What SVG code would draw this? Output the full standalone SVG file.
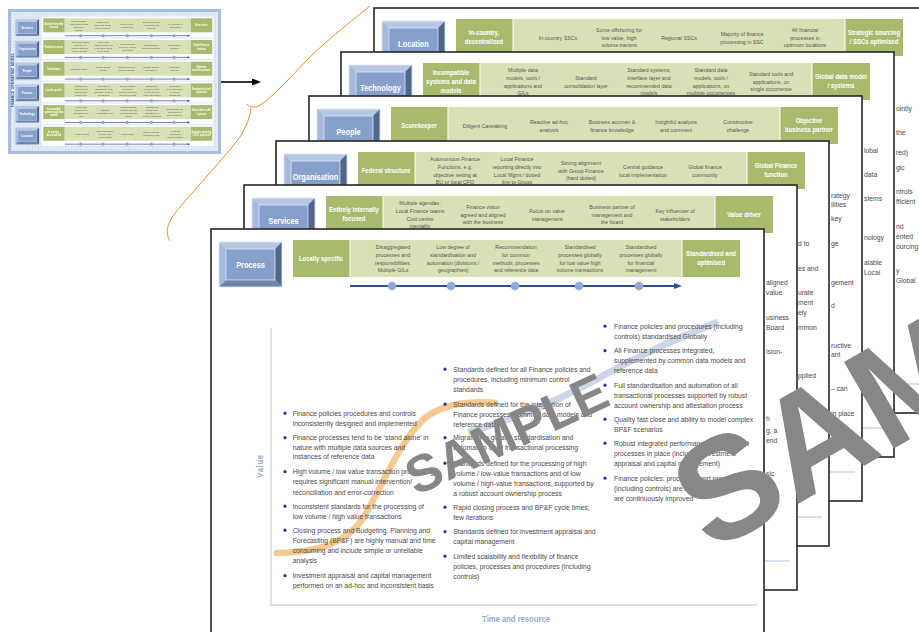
<svg xmlns="http://www.w3.org/2000/svg" width="919" height="632" viewBox="0 0 919 632">
<style>
text{font-family:'Liberation Sans',Arial,sans-serif}
.card{fill:#fff;stroke:#262626;stroke-width:1.6}
.dg{fill:#a8bb6d}
.lg{fill:#d8e1b5}
.bl{font-size:8.7px;font-weight:bold;fill:#fff;text-anchor:middle}
.eb{font-size:7px;font-weight:bold;fill:#fff;text-anchor:middle}
.ct{font-size:6.2px;fill:#555;text-anchor:middle}
.bt{font-size:8px;fill:#4a4a4a}
.axis{fill:none;stroke:#d7e0ec;stroke-width:2}
.bul{fill:#1d3a8f}
.lbl{font-size:9px;font-weight:bold;fill:#93abd1;text-anchor:middle}
.wm{font-weight:bold;fill:#878787}
</style>
<defs>
<pattern id="grid" width="3" height="3" patternUnits="userSpaceOnUse">
<rect width="3" height="3" fill="#e5ecf6"/>
<path d="M3 0V3H0" fill="none" stroke="#c5d4ea" stroke-width="0.6"/>
</pattern>
<filter id="soft" x="-5%" y="-5%" width="110%" height="110%"><feGaussianBlur stdDeviation="0.3"/></filter>
<marker id="tla" viewBox="0 0 8 6" refX="0" refY="3" markerWidth="8" markerHeight="6" orient="auto" markerUnits="userSpaceOnUse"><path d="M0 0L8 3L0 6z" fill="#2f4d94"/></marker>
<marker id="arr" viewBox="0 0 9 7" refX="0" refY="3.5" markerWidth="9" markerHeight="7" orient="auto" markerUnits="userSpaceOnUse"><path d="M0 0L9 3.5L0 7z" fill="#000"/></marker>

<!-- bevelled blue label button -->
<g id="btn">
<rect x="8" y="13" width="63" height="45" fill="#c9d6eb"/>
<path d="M8 13H71L64 20H15Z" fill="#b7c8e4"/>
<path d="M8 13L15 20V51L8 58Z" fill="#a5b9dd"/>
<path d="M71 13V58L64 51V20Z" fill="#51668a"/>
<path d="M8 58L15 51H64L71 58Z" fill="#6e83a8"/>
<rect x="15" y="20" width="49" height="31" fill="#86a0cb" stroke="#dbe4f2" stroke-width="0.8"/>
<rect x="8" y="13" width="63" height="45" fill="none" stroke="#dfe7f3" stroke-width="0.8"/>
</g>

<!-- maturity timeline under the band -->
<g id="tl">
<path d="M139 57H463" stroke="#2f4d94" stroke-width="1.8" marker-end="url(#tla)"/>
<g fill="#8fa9d3"><circle cx="181" cy="57" r="4.3"/><circle cx="240" cy="57" r="4.3"/><circle cx="304" cy="57" r="4.3"/><circle cx="368" cy="57" r="4.3"/><circle cx="428" cy="57" r="4.3"/></g>
</g>

<!-- header rows, one per dimension -->
<g id="hd-loc">
<use href="#btn"/>
<text class="bl" transform="translate(39.5 38.5) scale(.85 1)">Location</text>
<rect class="dg" x="82" y="11" width="56.5" height="37"/><rect class="lg" x="139.5" y="11" width="331" height="37"/><rect class="dg" x="471.5" y="11" width="57.5" height="37"/>
<text class="eb" transform="translate(110 0) scale(.85 1)"><tspan x="0" y="27.5">In-country,</tspan><tspan x="0" y="36.5">decentralised</tspan></text>
<text class="ct" transform="translate(184 0) scale(.85 1)"><tspan x="0" y="31.7">In-country SSCs</tspan></text>
<text class="ct" transform="translate(245 0) scale(.85 1)"><tspan x="0" y="23.9">Some offshoring for</tspan><tspan x="0" y="31.7">low value, high</tspan><tspan x="0" y="39.5">volume transns</tspan></text>
<text class="ct" transform="translate(305 0) scale(.85 1)"><tspan x="0" y="31.7">Regional SSCs</tspan></text>
<text class="ct" transform="translate(368 0) scale(.85 1)"><tspan x="0" y="27.8">Majority of finance</tspan><tspan x="0" y="35.6">processing in SSC</tspan></text>
<text class="ct" transform="translate(431 0) scale(.85 1)"><tspan x="0" y="23.9">All financial</tspan><tspan x="0" y="31.7">processes in</tspan><tspan x="0" y="39.5">optimum locations</tspan></text>
<text class="eb" transform="translate(500 0) scale(.85 1)"><tspan x="0" y="27.5">Strategic sourcing</tspan><tspan x="0" y="36.5">/ SSCs optimised</tspan></text>
<use href="#tl"/>
</g>

<g id="hd-tech">
<use href="#btn"/>
<text class="bl" transform="translate(39.5 38.5) scale(.85 1)">Technology</text>
<rect class="dg" x="82" y="11" width="56.5" height="37"/><rect class="lg" x="139.5" y="11" width="331" height="37"/><rect class="dg" x="471.5" y="11" width="57.5" height="37"/>
<text class="eb" transform="translate(110 0) scale(.85 1)"><tspan x="0" y="23">Incompatible</tspan><tspan x="0" y="32">systems and data</tspan><tspan x="0" y="41">models</tspan></text>
<text class="ct" transform="translate(182 0) scale(.85 1)"><tspan x="0" y="20">Multiple data</tspan><tspan x="0" y="27.8">models, tools /</tspan><tspan x="0" y="35.6">applications and</tspan><tspan x="0" y="43.4">G/Ls</tspan></text>
<text class="ct" transform="translate(245 0) scale(.85 1)"><tspan x="0" y="27.8">Standard</tspan><tspan x="0" y="35.6">consolidation layer</tspan></text>
<text class="ct" transform="translate(308 0) scale(.85 1)"><tspan x="0" y="20">Standard systems,</tspan><tspan x="0" y="27.8">interface layer and</tspan><tspan x="0" y="35.6">recommended data</tspan><tspan x="0" y="43.4">models</tspan></text>
<text class="ct" transform="translate(370 0) scale(.85 1)"><tspan x="0" y="20">Standard data</tspan><tspan x="0" y="27.8">models, tools /</tspan><tspan x="0" y="35.6">applications, on</tspan><tspan x="0" y="43.4">multiple occurrences</tspan></text>
<text class="ct" transform="translate(430 0) scale(.85 1)"><tspan x="0" y="23.9">Standard tools and</tspan><tspan x="0" y="31.7">applications, on</tspan><tspan x="0" y="39.5">single occurrence</tspan></text>
<text class="eb" transform="translate(500 0) scale(.85 1)"><tspan x="0" y="27.5">Global data model</tspan><tspan x="0" y="36.5">/ systems</tspan></text>
<use href="#tl"/>
</g>

<g id="hd-people">
<use href="#btn"/>
<text class="bl" transform="translate(39.5 38.5) scale(.85 1)">People</text>
<rect class="dg" x="82" y="11" width="56.5" height="37"/><rect class="lg" x="139.5" y="11" width="331" height="37"/><rect class="dg" x="471.5" y="11" width="57.5" height="37"/>
<text class="eb" transform="translate(110 32) scale(.85 1)">Scorekeeper</text>
<text class="ct" transform="translate(176 0) scale(.85 1)"><tspan x="0" y="31.7">Diligent Caretaking</tspan></text>
<text class="ct" transform="translate(240 0) scale(.85 1)"><tspan x="0" y="27.8">Reactive ad-hoc</tspan><tspan x="0" y="35.6">analysis</tspan></text>
<text class="ct" transform="translate(303 0) scale(.85 1)"><tspan x="0" y="27.8">Business acumen &amp;</tspan><tspan x="0" y="35.6">finance knowledge</tspan></text>
<text class="ct" transform="translate(367 0) scale(.85 1)"><tspan x="0" y="27.8">Insightful analysis</tspan><tspan x="0" y="35.6">and comment</tspan></text>
<text class="ct" transform="translate(429 0) scale(.85 1)"><tspan x="0" y="27.8">Constructive</tspan><tspan x="0" y="35.6">challenge</tspan></text>
<text class="eb" transform="translate(500 0) scale(.85 1)"><tspan x="0" y="27.5">Objective</tspan><tspan x="0" y="36.5">business partner</tspan></text>
<use href="#tl"/>
</g>

<g id="hd-org">
<use href="#btn"/>
<text class="bl" transform="translate(39.5 38.5) scale(.85 1)">Organisation</text>
<rect class="dg" x="82" y="11" width="56.5" height="37"/><rect class="lg" x="139.5" y="11" width="331" height="37"/><rect class="dg" x="471.5" y="11" width="57.5" height="37"/>
<text class="eb" transform="translate(110 32) scale(.85 1)">Federal structure</text>
<text class="ct" transform="translate(179 0) scale(.85 1)"><tspan x="0" y="20">Autonomous Finance</tspan><tspan x="0" y="27.8">Functions, e.g.</tspan><tspan x="0" y="35.6">objective setting at</tspan><tspan x="0" y="43.4">BU or local CFO</tspan></text>
<text class="ct" transform="translate(241 0) scale(.85 1)"><tspan x="0" y="20">Local Finance</tspan><tspan x="0" y="27.8">reporting directly into</tspan><tspan x="0" y="35.6">Local Mgmt / dotted</tspan><tspan x="0" y="43.4">line to Group</tspan></text>
<text class="ct" transform="translate(305 0) scale(.85 1)"><tspan x="0" y="23.9">Strong alignment</tspan><tspan x="0" y="31.7">with Group Finance</tspan><tspan x="0" y="39.5">(hard dotted)</tspan></text>
<text class="ct" transform="translate(367 0) scale(.85 1)"><tspan x="0" y="27.8">Central guidance</tspan><tspan x="0" y="35.6">local implementation</tspan></text>
<text class="ct" transform="translate(429 0) scale(.85 1)"><tspan x="0" y="27.8">Global finance</tspan><tspan x="0" y="35.6">community</tspan></text>
<text class="eb" transform="translate(500 0) scale(.85 1)"><tspan x="0" y="27.5">Global Finance</tspan><tspan x="0" y="36.5">function</tspan></text>
<use href="#tl"/>
</g>

<g id="hd-serv">
<use href="#btn"/>
<text class="bl" transform="translate(39.5 38.5) scale(.85 1)">Services</text>
<rect class="dg" x="82" y="11" width="56.5" height="37"/><rect class="lg" x="139.5" y="11" width="331" height="37"/><rect class="dg" x="471.5" y="11" width="57.5" height="37"/>
<text class="eb" transform="translate(110 0) scale(.85 1)"><tspan x="0" y="27.5">Entirely internally</tspan><tspan x="0" y="36.5">focused</tspan></text>
<text class="ct" transform="translate(176 0) scale(.85 1)"><tspan x="0" y="20">Multiple agendas,</tspan><tspan x="0" y="27.8">Local Finance teams</tspan><tspan x="0" y="35.6">Cost centre</tspan><tspan x="0" y="43.4">mentality</tspan></text>
<text class="ct" transform="translate(239 0) scale(.85 1)"><tspan x="0" y="23.9">Finance vision</tspan><tspan x="0" y="31.7">agreed and aligned</tspan><tspan x="0" y="39.5">with the business</tspan></text>
<text class="ct" transform="translate(303 0) scale(.85 1)"><tspan x="0" y="27.8">Focus on value</tspan><tspan x="0" y="35.6">management</tspan></text>
<text class="ct" transform="translate(368 0) scale(.85 1)"><tspan x="0" y="23.9">Business partner of</tspan><tspan x="0" y="31.7">management and</tspan><tspan x="0" y="39.5">the board</tspan></text>
<text class="ct" transform="translate(431 0) scale(.85 1)"><tspan x="0" y="27.8">Key influencer of</tspan><tspan x="0" y="35.6">stakeholders</tspan></text>
<text class="eb" transform="translate(500 32) scale(.85 1)">Value driver</text>
<use href="#tl"/>
</g>

<g id="hd-proc">
<use href="#btn"/>
<text class="bl" transform="translate(39.5 38.5) scale(.85 1)">Process</text>
<rect class="dg" x="82" y="11" width="56.5" height="37"/><rect class="lg" x="139.5" y="11" width="331" height="37"/><rect class="dg" x="471.5" y="11" width="57.5" height="37"/>
<text class="eb" transform="translate(110 32) scale(.85 1)">Locally specific</text>
<text class="ct" transform="translate(182 0) scale(.85 1)"><tspan x="0" y="20">Disaggregated</tspan><tspan x="0" y="27.8">processes and</tspan><tspan x="0" y="35.6">responsibilities.</tspan><tspan x="0" y="43.4">Multiple G/Ls</tspan></text>
<text class="ct" transform="translate(242 0) scale(.85 1)"><tspan x="0" y="20">Low degree of</tspan><tspan x="0" y="27.8">standardisation and</tspan><tspan x="0" y="35.6">automation (divisions /</tspan><tspan x="0" y="43.4">geographies)</tspan></text>
<text class="ct" transform="translate(305 0) scale(.85 1)"><tspan x="0" y="20">Recommendation</tspan><tspan x="0" y="27.8">for common</tspan><tspan x="0" y="35.6">methods, processes</tspan><tspan x="0" y="43.4">and reference data</tspan></text>
<text class="ct" transform="translate(369 0) scale(.85 1)"><tspan x="0" y="20">Standardised</tspan><tspan x="0" y="27.8">processes globally</tspan><tspan x="0" y="35.6">for low value high</tspan><tspan x="0" y="43.4">volume transactions</tspan></text>
<text class="ct" transform="translate(430 0) scale(.85 1)"><tspan x="0" y="20">Standardised</tspan><tspan x="0" y="27.8">processes globally</tspan><tspan x="0" y="35.6">for financial</tspan><tspan x="0" y="43.4">management</tspan></text>
<text class="eb" transform="translate(500 0) scale(.85 1)"><tspan x="0" y="27.5">Standardised and</tspan><tspan x="0" y="36.5">optimised</tspan></text>
<use href="#tl"/>
</g>
</defs>

<rect width="919" height="632" fill="#fff"/>

<!-- miniature overview of the whole framework -->
<g id="thumbnail" filter="url(#soft)">
<rect x="9.5" y="10.5" width="210" height="142" fill="url(#grid)" stroke="#a7bddc" stroke-width="3"/>
<text transform="translate(13.8 80) rotate(-90)" font-size="3.3" font-weight="bold" fill="#2c4a8c" text-anchor="middle" letter-spacing="0.3">FINANCE OPERATING MODEL</text>
<g fill="#fbfcfe">
<rect x="41.5" y="16.7" width="172" height="20.6"/><rect x="41.5" y="38.4" width="172" height="20.6"/><rect x="41.5" y="60.1" width="172" height="20.6"/>
<rect x="41.5" y="81.8" width="172" height="20.6"/><rect x="41.5" y="103.5" width="172" height="20.6"/><rect x="41.5" y="125.2" width="172" height="20.6"/>
</g>
<use href="#hd-serv" transform="translate(12.3 14.14) scale(.378)"/>
<use href="#hd-org" transform="translate(12.3 35.84) scale(.378)"/>
<use href="#hd-people" transform="translate(12.3 57.54) scale(.378)"/>
<use href="#hd-proc" transform="translate(12.3 79.24) scale(.378)"/>
<use href="#hd-tech" transform="translate(12.3 100.94) scale(.378)"/>
<use href="#hd-loc" transform="translate(12.3 122.64) scale(.378)"/>
</g>

<!-- stacked dimension pages, back to front -->
<g id="card-location">
<rect class="card" x="374" y="8" width="553" height="405"/>
<use href="#hd-loc" x="374" y="8"/>
<path class="axis" d="M434 107V384H920"/>
<text class="bt" transform="translate(896 0) scale(.85 1)"><tspan x="0" y="111">ointly</tspan><tspan x="0" y="135">the</tspan><tspan x="0" y="155">red)</tspan><tspan x="0" y="170">gic</tspan><tspan x="0" y="194">ntrols</tspan><tspan x="0" y="204">fficient</tspan><tspan x="0" y="229">nd</tspan><tspan x="0" y="239">ented</tspan><tspan x="0" y="249">ourcing</tspan><tspan x="0" y="273">y</tspan><tspan x="0" y="283">Global</tspan></text>
</g>

<g id="card-technology">
<rect class="card" x="341" y="52" width="553" height="405"/>
<use href="#hd-tech" x="341" y="52"/>
<path class="axis" d="M401 151V428H887"/>
<text class="bt" transform="translate(864 0) scale(.85 1)"><tspan x="0" y="153">lobal</tspan><tspan x="0" y="177">data</tspan><tspan x="0" y="201">stems</tspan><tspan x="0" y="240">nology</tspan><tspan x="0" y="265">alable</tspan><tspan x="0" y="275">Local</tspan></text>
</g>

<g id="card-people">
<rect class="card" x="309" y="96" width="553" height="405"/>
<use href="#hd-people" x="309" y="96"/>
<path class="axis" d="M369 195V472H855"/>
<text class="bt" transform="translate(831 0) scale(.85 1)"><tspan x="0" y="198">rategy</tspan><tspan x="0" y="207">ilities</tspan><tspan x="0" y="221">key</tspan><tspan x="0" y="246">ge</tspan><tspan x="0" y="285">gement</tspan><tspan x="0" y="308">d</tspan><tspan x="0" y="348">ructive</tspan><tspan x="0" y="357">ant</tspan><tspan x="0" y="391">– can</tspan><tspan x="0" y="416">in place</tspan></text>
</g>

<g id="card-organisation">
<rect class="card" x="276" y="141" width="553" height="405"/>
<use href="#hd-org" x="276" y="141"/>
<path class="axis" d="M336 240V517H822"/>
<text class="bt" transform="translate(798 0) scale(.85 1)"><tspan x="0" y="246">d to</tspan><tspan x="0" y="271">es and</tspan><tspan x="0" y="295">urate</tspan><tspan x="0" y="305">ment</tspan><tspan x="0" y="315">ely</tspan><tspan x="0" y="330">mmon</tspan><tspan x="0" y="378">pplied</tspan></text>
</g>

<g id="card-services">
<rect class="card" x="244" y="185" width="553" height="405"/>
<use href="#hd-serv" x="244" y="185"/>
<path class="axis" d="M304 284V561H790"/>
<text class="bt" transform="translate(766 0) scale(.85 1)"><tspan x="0" y="285">aligned</tspan><tspan x="0" y="295">value</tspan><tspan x="0" y="320">usiness</tspan><tspan x="0" y="330">Board</tspan><tspan x="0" y="354">ision-</tspan><tspan x="0" y="421">h</tspan><tspan x="0" y="433">g, a</tspan><tspan x="0" y="443">end</tspan><tspan x="0" y="476">sic</tspan></text>
</g>

<g id="card-process">
<rect class="card" x="211" y="229" width="553" height="405"/>
<use href="#hd-proc" x="211" y="229"/>
<path class="axis" d="M271 328V605H757"/>
<text class="lbl" transform="translate(262.5 466) rotate(-90) scale(.85 1)" letter-spacing="0.8">Value</text>
<text class="lbl" transform="translate(516 622) scale(.85 1)">Time and resource</text>
<!-- maturity curve -->
<path d="M277 553C320 552 345 543 362 520C385 482 400 440 425 418C445 402 475 401 495 403" fill="none" stroke="#f6c992" stroke-width="6.5" stroke-linecap="round"/>
<path d="M468 432C520 418 570 395 610 372C650 350 690 333 718 322" fill="none" stroke="#cbd7e8" stroke-width="7"/>
<!-- left column -->
<g class="bul"><circle cx="285" cy="413.2" r="1.6"/><circle cx="285" cy="437.7" r="1.6"/><circle cx="285" cy="471.7" r="1.6"/><circle cx="285" cy="506.2" r="1.6"/><circle cx="285" cy="530.2" r="1.6"/><circle cx="285" cy="575.7" r="1.6"/></g>
<text class="bt" transform="translate(292.7 0) scale(.85 1)"><tspan x="0" y="416">Finance policies procedures and controls</tspan><tspan x="0" y="426">inconsistently designed and implemented</tspan><tspan x="0" y="440.5">Finance processes tend to be ‘stand alone’ in</tspan><tspan x="0" y="450">nature with multiple data sources and</tspan><tspan x="0" y="459.5">instances of reference data</tspan><tspan x="0" y="474.5">High volume / low value transaction processing</tspan><tspan x="0" y="484.5">requires significant manual intervention/</tspan><tspan x="0" y="495">reconciliation and error-correction</tspan><tspan x="0" y="509">Inconsistent standards for the processing of</tspan><tspan x="0" y="519">low volume / high value transactions</tspan><tspan x="0" y="533">Closing process and Budgeting, Planning and</tspan><tspan x="0" y="543">Forecasting (BP&amp;F) are highly manual and time</tspan><tspan x="0" y="553">consuming and include simple or unreliable</tspan><tspan x="0" y="563.5">analysis</tspan><tspan x="0" y="578.5">Investment appraisal and capital management</tspan><tspan x="0" y="588">performed on an ad-hoc and inconsistent basis</tspan></text>
<!-- middle column -->
<g class="bul"><circle cx="445" cy="369.2" r="1.6"/><circle cx="445" cy="404.2" r="1.6"/><circle cx="445" cy="437.7" r="1.6"/><circle cx="445" cy="463.2" r="1.6"/><circle cx="445" cy="507.2" r="1.6"/><circle cx="445" cy="531.7" r="1.6"/><circle cx="445" cy="556.2" r="1.6"/></g>
<text class="bt" transform="translate(453.3 0) scale(.85 1)"><tspan x="0" y="372">Standards defined for all Finance policies and</tspan><tspan x="0" y="382">procedures, including minimum control</tspan><tspan x="0" y="392">standards</tspan><tspan x="0" y="407">Standards defined for the integration of</tspan><tspan x="0" y="417">Finance processes, common data models and</tspan><tspan x="0" y="427">reference data</tspan><tspan x="0" y="440.5">Migration to greater standardisation and</tspan><tspan x="0" y="450.5">automation of all transactional processing</tspan><tspan x="0" y="466">Standards defined for the processing of high</tspan><tspan x="0" y="476">volume / low-value transactions and of low</tspan><tspan x="0" y="486">volume / high-value transactions, supported by</tspan><tspan x="0" y="496">a robust account ownership process</tspan><tspan x="0" y="510">Rapid closing process and BP&amp;F cycle times;</tspan><tspan x="0" y="520">few iterations</tspan><tspan x="0" y="534.5">Standards defined for investment appraisal and</tspan><tspan x="0" y="544.5">capital management</tspan><tspan x="0" y="559">Limited scalability and flexibility of finance</tspan><tspan x="0" y="569">policies, processes and procedures (including</tspan><tspan x="0" y="579">controls)</tspan></text>
<!-- right column -->
<g class="bul"><circle cx="605" cy="326.2" r="1.6"/><circle cx="605" cy="350.7" r="1.6"/><circle cx="605" cy="385.2" r="1.6"/><circle cx="605" cy="419.2" r="1.6"/><circle cx="605" cy="443.2" r="1.6"/><circle cx="605" cy="478.2" r="1.6"/></g>
<text class="bt" transform="translate(614 0) scale(.85 1)"><tspan x="0" y="329">Finance policies and procedures (including</tspan><tspan x="0" y="339">controls) standardised Globally</tspan><tspan x="0" y="353.5">All Finance processes integrated,</tspan><tspan x="0" y="363.5">supplemented by common data models and</tspan><tspan x="0" y="373.5">reference data</tspan><tspan x="0" y="388">Full standardisation and automation of all</tspan><tspan x="0" y="398">transactional processes supported by robust</tspan><tspan x="0" y="408">account ownership and attestation process</tspan><tspan x="0" y="422">Quality fast close and ability to model complex</tspan><tspan x="0" y="432">BP&amp;F scenarios</tspan><tspan x="0" y="446">Robust integrated performance management</tspan><tspan x="0" y="456.5">processes in place (including investment</tspan><tspan x="0" y="466.5">appraisal and capital management)</tspan><tspan x="0" y="481">Finance policies, processes and procedures</tspan><tspan x="0" y="491">(including controls) are reviewed and</tspan><tspan x="0" y="501">are continuously improved</tspan></text>
</g>

<!-- pointer from the overview to the page stack -->
<g id="connectors">
<path d="M221 82H252" stroke="#000" stroke-width="1.6" marker-end="url(#arr)"/>
<path d="M370 6C350 22 325 42 307 60C290 78 272 97 262 104C256 108 250 108 247 104M251 108C250 118 246 127 240 137C225 157 195 189 180 207C168 221 164 231 170 241" fill="none" stroke="#ef8a2c" stroke-width="1"/>
</g>

<!-- watermark -->
<g id="watermark">
<text class="wm" font-size="52" transform="translate(416 496) rotate(-25)">SAMPLE</text>
<text class="wm" font-size="145" transform="translate(711 554) rotate(-30)">SAMPLE</text>
</g>
</svg>
